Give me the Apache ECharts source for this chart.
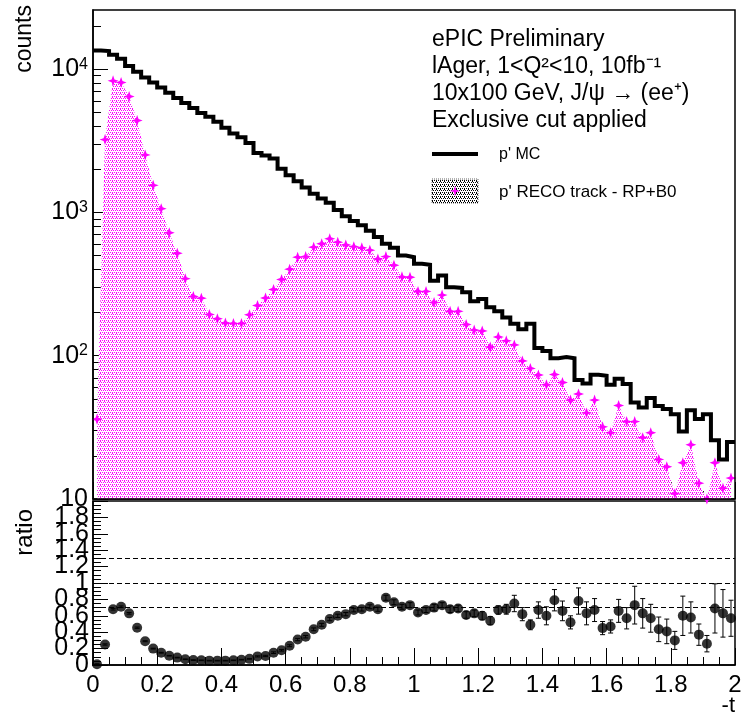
<!DOCTYPE html>
<html><head><meta charset="utf-8">
<script src="https://cdn.jsdelivr.net/npm/echarts@6/dist/echarts.min.js"></script>
<style>html,body{margin:0;padding:0;background:#fff}#c{width:744px;height:714px}</style>
</head><body><div id="c"></div>
<script>
// ---- data ----
const binWidth = 0.025; // -t bin width, 80 bins from 0 to 2
const mcCounts = [13470,13370,12600,11800,10500,9600,8750,8050,7450,6850,
  6300,5800,5350,4950,4650,4300,3900,3560,3350,3050,
  2600,2500,2380,2020,1820,1650,1490,1350,1250,1170,
  1040,940,870,815,745,675,604,566,500,487,
  438,431,334,363,300,297,277,240,249,218,
  204,185,167,153,167,113,108,96,98,96,
  67.6,64,73.6,72.4,62.7,69,63.4,47.1,43.5,50.6,
  44.5,42.4,39.1,29.6,41.7,36.1,39.1,25.7,18.9,25.0];
const recoCounts = [36,3223,8280,8070,6440,4380,2520,1545,1062,721,
  519,345,259,252,194,181,169,168,168,193,
  224,253,290,340,402,487,492,572,604,655,
  620,593,577,566,545,473,492,428,355,353,
  281,281,235,265,204,204,165,151,149,115,
  135,127,119,92,81.5,73.4,62.7,74,65,49,
  54,39.9,49,31.9,29,44.9,34.7,34.7,26.8,29,
  18.9,16.8,10.9,17.9,23.9,12.9,10,17.9,11.9,14];
const ratioValues = [0.01,0.25,0.68,0.71,0.63,0.455,0.29,0.20,0.15,0.113,
  0.09,0.07,0.06,0.057,0.053,0.053,0.053,0.057,0.065,0.075,
  0.105,0.11,0.15,0.18,0.235,0.31,0.345,0.435,0.49,0.56,
  0.60,0.62,0.67,0.68,0.71,0.68,0.82,0.765,0.71,0.73,
  0.64,0.67,0.70,0.73,0.68,0.69,0.61,0.63,0.60,0.54,
  0.67,0.68,0.75,0.62,0.49,0.67,0.60,0.79,0.66,0.52,
  0.78,0.63,0.67,0.45,0.47,0.66,0.57,0.73,0.63,0.57,
  0.435,0.41,0.30,0.60,0.58,0.37,0.26,0.69,0.63,0.57];
const ratioErrors = [0.005,0.008,0.01,0.01,0.01,0.008,0.006,0.005,0.005,0.004,
  0.004,0.004,0.004,0.004,0.004,0.004,0.004,0.004,0.004,0.005,
  0.007,0.008,0.01,0.01,0.012,0.014,0.015,0.017,0.018,0.02,
  0.02,0.02,0.022,0.022,0.024,0.025,0.03,0.03,0.03,0.03,
  0.03,0.03,0.04,0.03,0.04,0.04,0.04,0.04,0.05,0.05,
  0.05,0.06,0.10,0.08,0.06,0.10,0.11,0.13,0.12,0.08,
  0.16,0.14,0.14,0.08,0.08,0.14,0.13,0.23,0.18,0.17,
  0.15,0.15,0.11,0.24,0.19,0.13,0.10,0.30,0.29,0.22];
const logMinorTicks = [20,30,40,50,60,70,80,90,200,300,400,500,600,700,800,900,
  2000,3000,4000,5000,6000,7000,8000,9000,20000];
const ratioRefLines = [0.7, 1.0, 1.3];
const infoLines = ['ePIC Preliminary', 'lAger, 1<Q\u00B2<10, 10fb\u207B\u00B9',
  '10x100 GeV, J/\u03C8 \u2192 (ee\u207A)', 'Exclusive cut applied'];
const legendNames = ["p' MC", "p' RECO track - RP+B0"];

// ---- derived ----
const countsMin = 10, countsMax = 25860;
const nBins = mcCounts.length;
const centers = recoCounts.map((_, i) => (i + 0.5) * binWidth);
const mcData = [];
for (let i = 0; i <= nBins; i++) mcData.push([i * binWidth, mcCounts[Math.min(i, nBins - 1)]]);
const recoData = centers.map((x, i) => [x, recoCounts[i]]);
const ratioData = centers.map((x, i) => [x, ratioValues[i], ratioErrors[i]]);

function dotPattern(color) {
  const c = document.createElement('canvas'); c.width = 4; c.height = 4;
  const g = c.getContext('2d');
  g.fillStyle = '#fff'; g.fillRect(0, 0, 4, 4);
  g.fillStyle = color;
  [[0,0],[2,0],[1,2],[3,2],[0,1]].forEach(p => g.fillRect(p[0], p[1], 1, 1));
  return c;
}
const pinkPattern = { image: dotPattern('#ff00ff'), repeat: 'repeat' };
const greyPattern = { image: dotPattern('#000000'), repeat: 'repeat' };
const starPath = 'path://M0,-10 L2.6,-2.6 L10,0 L2.6,2.6 L0,10 L-2.6,2.6 L-10,0 L-2.6,-2.6 Z';
function starPoints(cx, cy, R, r) {
  const pts = [];
  for (let k = 0; k < 8; k++) {
    const a = k * Math.PI / 4, rad = (k % 2 === 0) ? R : r;
    pts.push([cx + rad * Math.sin(a), cy - rad * Math.cos(a)]);
  }
  return pts;
}

const FONT = 'Liberation Sans';
const chart = echarts.init(document.getElementById('c'), null, { renderer: 'canvas' });

const gridL = 93, gridW = 642;
const ratioLabel = v => (v >= 1.99 ? '' : String(+v.toFixed(1)));
const option = {
  animation: false,
  backgroundColor: '#fff',
  textStyle: { fontFamily: FONT, color: '#000' },
  grid: [
    { left: gridL, top: 10, width: gridW, height: 489, outerBoundsMode: 'none', containLabel: false,
      show: true, borderColor: '#000', borderWidth: 1.5, backgroundColor: 'transparent', z: 10 },
    { left: gridL, top: 501, width: gridW, height: 164, outerBoundsMode: 'none', containLabel: false,
      show: true, borderColor: '#000', borderWidth: 1.5, backgroundColor: 'transparent' }
  ],
  xAxis: [
    { gridIndex: 0, type: 'value', min: 0, max: 2, interval: 0.2,
      axisLine: { show: true, onZero: false, lineStyle: { color: '#000', width: 1.5 } },
      axisTick: { show: true, inside: true, length: 17, lineStyle: { color: '#000', width: 1 } },
      minorTick: { show: true, splitNumber: 4, length: 8, lineStyle: { color: '#000', width: 1 } },
      axisLabel: { show: false }, splitLine: { show: false } },
    { gridIndex: 1, type: 'value', min: 0, max: 2, interval: 0.2,
      axisLine: { show: true, onZero: false, lineStyle: { color: '#000', width: 1.5 } },
      axisTick: { show: true, inside: true, length: 17, lineStyle: { color: '#000', width: 1 } },
      minorTick: { show: true, splitNumber: 4, length: 8, lineStyle: { color: '#000', width: 1 } },
      axisLabel: { show: true, fontSize: 24, fontFamily: FONT, color: '#000', margin: 8,
        showMinLabel: true, showMaxLabel: true,
        formatter: v => String(+v.toFixed(1)) },
      splitLine: { show: false } }
  ],
  yAxis: [
    { gridIndex: 0, position: 'left', type: 'log', logBase: 10, min: countsMin, max: countsMax,
      axisLine: { show: true, lineStyle: { color: '#000', width: 1.5 } },
      axisTick: { show: true, inside: true, length: 15, lineStyle: { color: '#000', width: 1 } },
      axisLabel: { show: true, showMaxLabel: false, showMinLabel: true, margin: 5, fontSize: 25, fontFamily: FONT, color: '#000',
        formatter: v => {
          const l = Math.log10(v), p = Math.round(l);
          if (Math.abs(l - p) > 1e-6) return '';
          return p === 1 ? '10' : '10{s|' + p + '}';
        },
        rich: { s: { fontSize: 16, fontFamily: FONT, color: '#000', verticalAlign: 'top', padding: [0, 0, 10, 0] } } },
      splitLine: { show: false } },
    // decoration-only axis carrying the 2..9 x decade minor ticks, in log10 units
    { gridIndex: 0, position: 'left', type: 'value', min: Math.log10(countsMin), max: Math.log10(countsMax),
      axisLine: { show: false },
      axisTick: { show: true, inside: true, length: 8, customValues: logMinorTicks.map(v => Math.log10(v)), lineStyle: { color: '#000', width: 1 } },
      axisLabel: { show: false }, splitLine: { show: false } },
    { gridIndex: 1, position: 'left', type: 'value', min: 0, max: 2, interval: 0.2,
      axisLine: { show: true, lineStyle: { color: '#000', width: 1.5 } },
      axisTick: { show: true, inside: true, length: 15, lineStyle: { color: '#000', width: 1 } },
      minorTick: { show: true, splitNumber: 4, length: 8, lineStyle: { color: '#000', width: 1 } },
      axisLabel: { show: true, showMinLabel: false, hideOverlap: false, margin: 4, fontSize: 25, fontFamily: FONT, color: '#000',
        formatter: ratioLabel },
      splitLine: { show: false } },
    // second ratio axis only to carry the "0" label (ECharts drops it when it overlaps "0.2")
    { gridIndex: 1, position: 'left', type: 'value', min: 0, max: 2,
      axisLine: { show: false }, axisTick: { show: false }, splitLine: { show: false },
      axisLabel: { show: true, customValues: [0], showMinLabel: true, margin: 4, fontSize: 25, fontFamily: FONT, color: '#000',
        formatter: ratioLabel } }
  ],
  series: [
    { name: legendNames[1], type: 'line', xAxisIndex: 0, yAxisIndex: 0, data: recoData,
      symbol: starPath, symbolSize: 11, showAllSymbol: true,
      itemStyle: { color: '#ff00ff' },
      lineStyle: { width: 0, opacity: 0 },
      areaStyle: { color: pinkPattern, opacity: 1, origin: 'start' }, z: 2 },
    { name: legendNames[0], type: 'line', step: 'end', xAxisIndex: 0, yAxisIndex: 0, data: mcData,
      showSymbol: false, symbol: 'none',
      lineStyle: { color: '#000', width: 4, join: 'miter' }, z: 3 },
    { type: 'custom', xAxisIndex: 1, yAxisIndex: 2, data: ratioData, z: 3,
      renderItem: (params, api) => {
        const x = api.value(0), r = api.value(1), e = api.value(2);
        const t = api.coord([x, r + e]), b = api.coord([x, r - e]);
        const st = { stroke: '#000', lineWidth: 1 };
        return { type: 'group', children: [
          { type: 'line', shape: { x1: t[0], y1: t[1], x2: b[0], y2: b[1] }, style: st },
          { type: 'line', shape: { x1: t[0] - 2.5, y1: t[1], x2: t[0] + 2.5, y2: t[1] }, style: st },
          { type: 'line', shape: { x1: b[0] - 2.5, y1: b[1], x2: b[0] + 2.5, y2: b[1] }, style: st }
        ] };
      } },
    { type: 'scatter', xAxisIndex: 1, yAxisIndex: 2, data: ratioData.map(d => [d[0], d[1]]),
      symbol: 'circle', symbolSize: 10, itemStyle: { color: '#000' }, z: 4,
      markLine: { silent: true, symbol: 'none', label: { show: false },
        lineStyle: { color: '#000', width: 1, type: [5, 3] },
        data: ratioRefLines.map(v => ({ yAxis: v })) } }
  ],
  graphic: [
    { type: 'text', x: 25, y: 5, rotation: Math.PI / 2,
      style: { text: 'counts', font: '23px "' + FONT + '"', fill: '#000', textAlign: 'right', textVerticalAlign: 'middle' } },
    { type: 'text', x: 25, y: 509, rotation: Math.PI / 2,
      style: { text: 'ratio', font: '24px "' + FONT + '"', fill: '#000', textAlign: 'right', textVerticalAlign: 'middle' } },
    { type: 'text', x: 735, y: 706,
      style: { text: '-t', font: '22px "' + FONT + '"', fill: '#000', textAlign: 'right', textVerticalAlign: 'middle' } },
    ...infoLines.map((t, i) => ({ type: 'text', x: 432, y: 40 + 27 * i,
      style: { text: t, font: '23px "' + FONT + '"', fill: '#000', textAlign: 'left', textVerticalAlign: 'middle' } })),
    { type: 'line', shape: { x1: 432, y1: 154, x2: 478, y2: 154 }, style: { stroke: '#000', lineWidth: 4 } },
    { type: 'text', x: 499, y: 155, style: { text: legendNames[0], font: '16px "' + FONT + '"', fill: '#000', textVerticalAlign: 'middle' } },
    { type: 'rect', shape: { x: 432, y: 179, width: 46, height: 24 }, style: { fill: greyPattern, stroke: '#000', lineWidth: 0.6, lineDash: [1, 1] } },
    { type: 'polygon', shape: { points: starPoints(455, 191, 5.5, 1.5) }, style: { fill: '#ff00ff' } },
    { type: 'text', x: 499, y: 192, style: { text: legendNames[1], font: '17px "' + FONT + '"', fill: '#000', textVerticalAlign: 'middle' } }
  ]
};
chart.setOption(option);
</script>
</body></html>
